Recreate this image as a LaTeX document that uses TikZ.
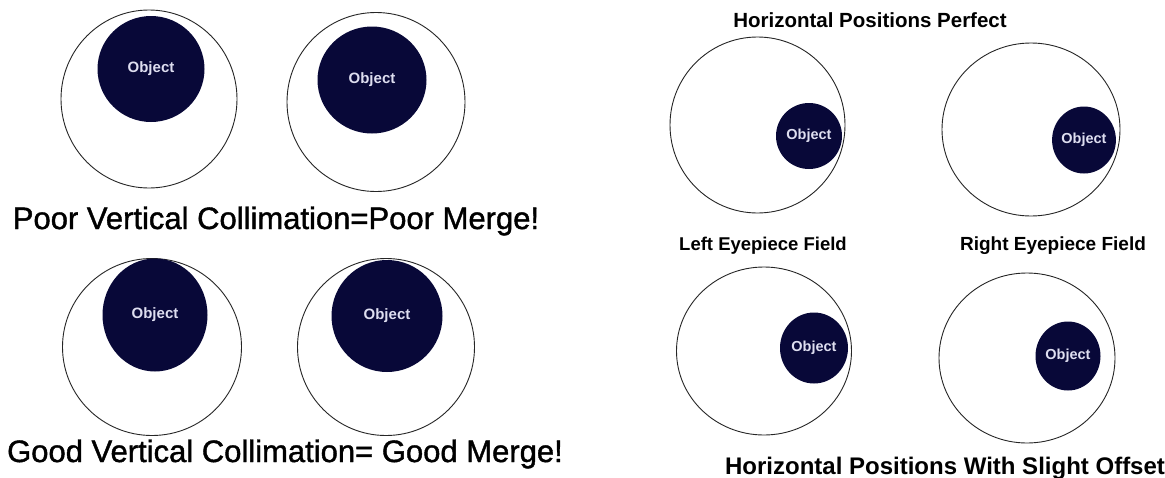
\documentclass[tikz,border=0pt]{standalone}
\usepackage{fontspec}
\setmainfont{Liberation Sans}
\newfontfamily\capfont{Liberation Sans}[FakeBold=1.3]
\usetikzlibrary{shapes.geometric}
\definecolor{objnavy}{RGB}{8,8,56}
\definecolor{objtext}{RGB}{222,222,240}
\tikzset{
  field/.style={ellipse, draw=black!85, line width=0.9pt, fill=white, inner sep=0pt},
  objblob/.style={ellipse, fill=objnavy, inner sep=0pt, text=objtext, font=\bfseries\fontsize{15}{15}\selectfont},
  objsmall/.style={objblob, font=\bfseries\fontsize{14.5}{14.5}\selectfont},
  bigcap/.style={anchor=base, font=\capfont\fontsize{31}{31}\selectfont},
  boldcap/.style={anchor=base, font=\bfseries}
}
\begin{document}
\begin{tikzpicture}[x=1pt,y=-1pt]
\useasboundingbox (0,0) rectangle (1165,477);
\fill[white] (0,0) rectangle (1165,477);
% left panel, top row
\node[field, minimum width=176pt, minimum height=178pt] (f1) at (149,99) {};
\node[objblob, minimum width=107pt, minimum height=106pt] (o1) at (151,69) {Object};
\node[field, minimum width=178pt, minimum height=179pt] (f2) at (376,102) {};
\node[objblob, minimum width=109pt, minimum height=107pt] (o2) at (372,80) {Object};
\node[bigcap] (t1) at (276,229) {Poor Vertical Collimation=Poor Merge!};
% left panel, bottom row
\node[field, minimum width=179pt, minimum height=177pt] (f3) at (152,347) {};
\node[objblob, minimum width=105pt, minimum height=113pt] (o3) at (155,315) {Object};
\node[field, minimum width=177pt, minimum height=177pt] (f4) at (386,347) {};
\node[objblob, minimum width=111pt, minimum height=112pt] (o4) at (387,316) {Object};
\node[bigcap] (t2) at (285,462) {Good Vertical Collimation= Good Merge!};
% right panel, top row
\node[boldcap, font=\bfseries\fontsize{20.5}{20.5}\selectfont] (t3) at (870,27) {Horizontal Positions Perfect};
\node[field, minimum width=175pt, minimum height=176pt] (f5) at (757.5,125) {};
\node[objsmall, minimum width=66pt, minimum height=66pt] (o5) at (809,136) {Object};
\node[field, minimum width=178pt, minimum height=173pt] (f6) at (1031,129.5) {};
\node[objsmall, minimum width=62pt, minimum height=67pt] (o6) at (1084,140) {Object};
\node[boldcap, font=\bfseries\fontsize{18.5}{18.5}\selectfont] (t4) at (763,250) {Left Eyepiece Field};
\node[boldcap, font=\bfseries\fontsize{19}{19}\selectfont] (t5) at (1053,250) {Right Eyepiece Field};
% right panel, bottom row
\node[field, minimum width=175pt, minimum height=168pt] (f7) at (764,351) {};
\node[objsmall, minimum width=68pt, minimum height=71pt] (o7) at (814,348) {Object};
\node[field, minimum width=176pt, minimum height=170pt] (f8) at (1027,358) {};
\node[objsmall, minimum width=65pt, minimum height=69pt] (o8) at (1068,356) {Object};
\node[boldcap, font=\bfseries\fontsize{24}{24}\selectfont] (t6) at (945,474) {Horizontal Positions With Slight Offset};
\end{tikzpicture}
\end{document}
